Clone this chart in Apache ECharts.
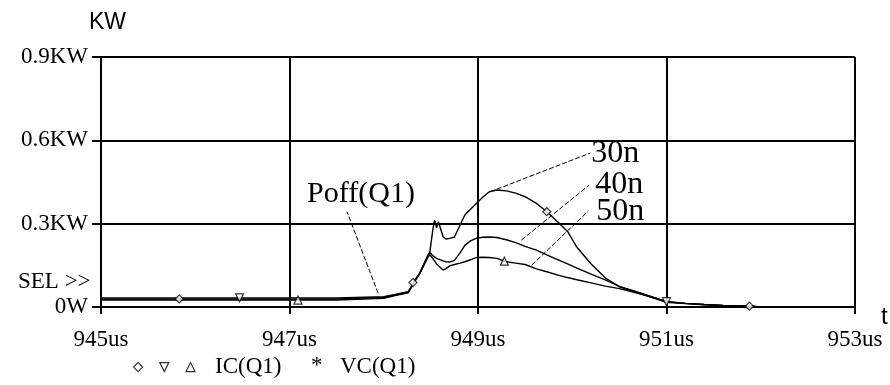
<!DOCTYPE html>
<html>
<head>
<meta charset="utf-8">
<script src="https://cdn.jsdelivr.net/npm/echarts@6/dist/echarts.min.js"></script>
<style>html,body{margin:0;padding:0;background:#fff;}#c{width:890px;height:385px;}</style>
</head>
<body>
<div id="c"></div>
<script>
// ---- data (time in us, power in KW) ----
var times = [945.0, 947.5, 948.0, 948.12, 948.26, 948.32, 948.38, 948.47, 948.49, 948.52, 948.54, 948.56, 948.58, 948.63, 948.66, 948.70, 948.75, 948.81, 948.86, 948.92, 948.98, 949.05, 949.12, 949.2, 949.3, 949.4, 949.5, 949.62, 949.73, 949.85, 949.95, 950.05, 950.2, 950.35, 950.5, 950.75, 951.0, 951.2, 951.4, 951.6, 951.9, 952.0];
var p30n = [0.029, 0.029, 0.034, 0.043, 0.053, 0.091, 0.121, 0.187, 0.200, 0.277, 0.313, 0.285, 0.307, 0.253, 0.245, 0.247, 0.252, 0.295, 0.331, 0.352, 0.372, 0.395, 0.415, 0.421, 0.418, 0.410, 0.397, 0.373, 0.343, 0.305, 0.272, 0.215, 0.155, 0.105, 0.073, 0.045, 0.020, 0.013, 0.009, 0.006, 0.003, 0.0];
var p40n = [0.033, 0.033, 0.037, 0.045, 0.055, 0.090, 0.120, 0.185, 0.195, 0.185, 0.178, 0.175, 0.172, 0.166, 0.163, 0.162, 0.168, 0.195, 0.222, 0.238, 0.247, 0.251, 0.252, 0.250, 0.242, 0.232, 0.218, 0.205, 0.188, 0.170, 0.155, 0.140, 0.118, 0.098, 0.074, 0.048, 0.019, 0.013, 0.009, 0.006, 0.003, 0.0];
var p50n = [0.025, 0.025, 0.031, 0.041, 0.051, 0.088, 0.118, 0.180, 0.188, 0.175, 0.165, 0.155, 0.148, 0.133, 0.138, 0.148, 0.153, 0.158, 0.163, 0.170, 0.178, 0.179, 0.178, 0.175, 0.163, 0.158, 0.153, 0.137, 0.127, 0.115, 0.106, 0.098, 0.087, 0.075, 0.066, 0.045, 0.017, 0.012, 0.008, 0.005, 0.002, 0.0];
// marker points (trace symbols)
var marks30n = [[945.83, 0.029], [948.31, 0.088], [949.73, 0.343], [951.88, 0.003]];
var marks40n = [[946.47, 0.033], [951.0, 0.019]];
var marks50n = [[947.09, 0.025], [949.28, 0.165]];
// annotation leaders [from, to] in data units
var lead30n = [[949.13, 0.415], [950.19, 0.554]];
var lead40n = [[949.46, 0.241], [950.18, 0.439]];
var lead50n = [[949.57, 0.151], [950.17, 0.345]];
var leadPoff = [[947.94, 0.050], [947.61, 0.343]];
// axis ticks
var xTicks = {min: 945, max: 953, step: 2};
var yTicks = {min: 0, max: 0.9, step: 0.3};

function pairs(t, v) { return t.map(function (x, i) { return [x, v[i]]; }); }

var serifF = 'Liberation Serif';
var black = '#000';

function curve(name, vals) {
  return {type: 'line', name: name, data: pairs(times, vals), showSymbol: false, symbol: 'none',
    lineStyle: {color: black, width: 1.4}, silent: true, z: 3, animation: false};
}
function marks(name, data, sym, rot) {
  return {type: 'scatter', name: name, data: data, symbol: sym, symbolRotate: rot || 0, symbolSize: 8,
    itemStyle: {color: '#fff', borderColor: black, borderWidth: 1.2}, z: 5, animation: false};
}
function leader(data, text, fs, lab) {
  var l = {show: true, formatter: text, fontFamily: serifF, fontSize: fs, color: black};
  for (var k in lab) l[k] = lab[k];
  return {type: 'line', data: data, showSymbol: false, symbol: 'none', animation: false, z: 4,
    lineStyle: {color: black, width: 1, type: [5, 2]}, endLabel: l};
}

var chart = echarts.init(document.getElementById('c'));
chart.setOption({
  backgroundColor: '#fff',
  animation: false,
  grid: {left: 101, right: 35, top: 57, bottom: 78},
  title: {text: 'KW', left: 84, top: 6, textStyle: {fontFamily: 'Liberation Sans', fontSize: 23, fontWeight: 'normal', color: black}},
  legend: {
    left: 128, top: 357, itemWidth: 9, itemHeight: 9, itemGap: 16, formatter: function () { return ''; },
    selectedMode: false,
    data: [
      {name: 'm30', icon: 'diamond', itemStyle: {color: '#fff', borderColor: black, borderWidth: 1.2}},
      {name: 'm40', icon: 'path://M0,0L10,0L5,10Z', itemStyle: {color: '#fff', borderColor: black, borderWidth: 1.2}},
      {name: 'm50', icon: 'triangle', itemStyle: {color: '#fff', borderColor: black, borderWidth: 1.2}}
    ]
  },
  xAxis: {
    type: 'value', min: xTicks.min, max: xTicks.max, interval: xTicks.step,
    axisLine: {show: true, lineStyle: {color: black, width: 2}},
    axisTick: {show: true, length: 7, lineStyle: {color: black, width: 2}},
    axisLabel: {formatter: function (v) { return v + 'us'; }, fontFamily: serifF, fontSize: 23, color: black, margin: 21},
    splitLine: {show: true, lineStyle: {color: black, width: 2}}
  },
  yAxis: {
    type: 'value', min: yTicks.min, max: yTicks.max, interval: yTicks.step,
    axisLine: {show: true, lineStyle: {color: black, width: 2}},
    axisTick: {show: true, length: 9, lineStyle: {color: black, width: 2}},
    axisLabel: {formatter: function (v) { return v === 0 ? '0W' : (+v.toFixed(1)) + 'KW'; }, fontFamily: serifF, fontSize: 23, color: black, margin: 13},
    splitLine: {show: true, lineStyle: {color: black, width: 2}}
  },
  graphic: [
    {type: 'text', left: 18, top: 270, style: {text: 'SEL >>', font: '23px "Liberation Serif"', fill: black}},
    {type: 'text', left: 881, top: 305, style: {text: 't', font: '24px "Liberation Sans"', fill: black}},
    {type: 'text', left: 215, top: 355, style: {text: 'IC(Q1)', font: '23px "Liberation Serif"', fill: black}},
    {type: 'text', left: 311, top: 354, style: {text: '*', font: '23px "Liberation Serif"', fill: black}},
    {type: 'text', left: 340, top: 355, style: {text: 'VC(Q1)', font: '23px "Liberation Serif"', fill: black}}
  ],
  series: [
    curve('30n', p30n), curve('40n', p40n), curve('50n', p50n),
    leader(lead30n, '30n', 32, {distance: 1}),
    leader(lead40n, '40n', 32, {distance: 6}),
    leader(lead50n, '50n', 32, {distance: 8}),
    leader(leadPoff, 'Poff(Q1)', 30, {align: 'center', verticalAlign: 'bottom', offset: [14, -3], distance: 0}),
    marks('m30', marks30n, 'diamond'),
    marks('m40', marks40n, 'triangle', 180),
    marks('m50', marks50n, 'triangle')
  ]
});
</script>
</body>
</html>
